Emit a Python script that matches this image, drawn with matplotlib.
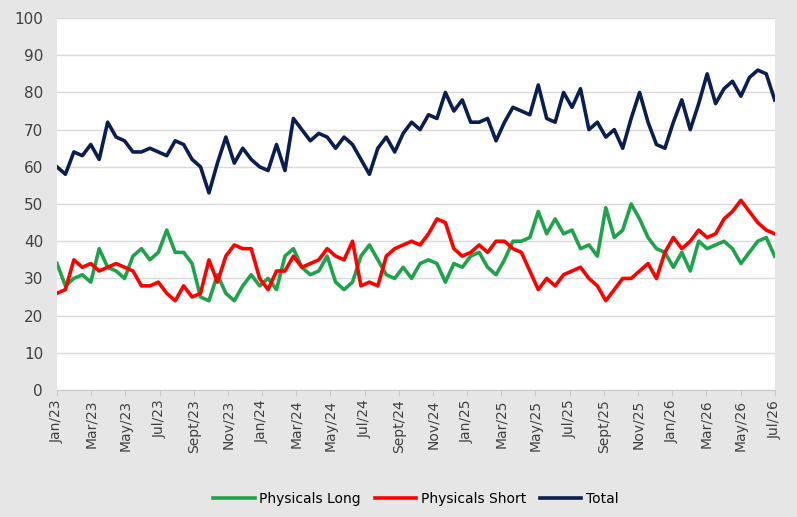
import matplotlib
matplotlib.use('Agg')
import matplotlib.pyplot as plt
import numpy as np

# semi-monthly readings, Jan 2023 .. Jul 2026
total = [60, 58, 64, 63, 66, 62, 72, 68, 67, 64, 64, 65, 64, 63, 67, 66, 62, 60, 53, 61,
         68, 61, 65, 62, 60, 59, 66, 59, 73, 70, 67, 69, 68, 65, 68, 66, 62, 58, 65, 68,
         64, 69, 72, 70, 74, 73, 80, 75, 78, 72, 72, 73, 67, 72, 76, 75, 74, 82, 73, 72,
         80, 76, 81, 70, 72, 68, 70, 65, 73, 80, 72, 66, 65, 72, 78, 70, 77, 85, 77, 81,
         83, 79, 84, 86, 85, 78]
phys_long = [34, 28, 30, 31, 29, 38, 33, 32, 30, 36, 38, 35, 37, 43, 37, 37, 34, 25, 24, 31,
             26, 24, 28, 31, 28, 30, 27, 36, 38, 33, 31, 32, 36, 29, 27, 29, 36, 39, 35, 31,
             30, 33, 30, 34, 35, 34, 29, 34, 33, 36, 37, 33, 31, 35, 40, 40, 41, 48, 42, 46,
             42, 43, 38, 39, 36, 49, 41, 43, 50, 46, 41, 38, 37, 33, 37, 32, 40, 38, 39, 40,
             38, 34, 37, 40, 41, 36]
phys_short = [26, 27, 35, 33, 34, 32, 33, 34, 33, 32, 28, 28, 29, 26, 24, 28, 25, 26, 35, 29,
              36, 39, 38, 38, 30, 27, 32, 32, 36, 33, 34, 35, 38, 36, 35, 40, 28, 29, 28, 36,
              38, 39, 40, 39, 42, 46, 45, 38, 36, 37, 39, 37, 40, 40, 38, 37, 32, 27, 30, 28,
              31, 32, 33, 30, 28, 24, 27, 30, 30, 32, 34, 30, 37, 41, 38, 40, 43, 41, 42, 46,
              48, 51, 48, 45, 43, 42]
tick_labels = ['Jan/23', 'Mar/23', 'May/23', 'Jul/23', 'Sept/23', 'Nov/23',
               'Jan/24', 'Mar/24', 'May/24', 'Jul/24', 'Sept/24', 'Nov/24',
               'Jan/25', 'Mar/25', 'May/25', 'Jul/25', 'Sept/25', 'Nov/25',
               'Jan/26', 'Mar/26', 'May/26', 'Jul/26']

x = np.arange(len(total)) / 2.0          # months since Jan/23
x = x * (42.0 / x[-1])

fig = plt.figure(figsize=(7.97, 5.17), dpi=100, facecolor='#e6e6e6')
ax = fig.add_axes([0.0715, 0.2456, 0.9005, 0.7195])
ax.set_facecolor('white')

ax.plot(x, phys_long, color='#1fa34a', lw=2.6, label='Physicals Long')
ax.plot(x, phys_short, color='#ff0000', lw=2.6, label='Physicals Short')
ax.plot(x, total, color='#0a1f4f', lw=2.6, label='Total')

ax.set_ylim(0, 100)
ax.set_xlim(0, 42)
ax.set_yticks(range(0, 101, 10))
ax.set_xticks(np.arange(0, 43, 2))
ax.set_xticklabels(tick_labels, rotation=90, fontsize=10, color='#404040')
ax.tick_params(axis='y', length=0, labelsize=11, colors='#404040', pad=10)
ax.tick_params(axis='x', length=4, color='#c8c8c8', pad=3)
ax.grid(axis='y', color='#d9d9d9', lw=1)
ax.set_axisbelow(True)
for s in ['top', 'right', 'left']:
    ax.spines[s].set_visible(False)
ax.spines['bottom'].set_color('#c8c8c8')

ax.legend(loc='upper center', bbox_to_anchor=(0.5, -0.24), ncol=3, frameon=False,
          fontsize=10, handlelength=3, columnspacing=1.0, handletextpad=0.3)

fig.savefig('out.png', dpi=100, facecolor=fig.get_facecolor())
